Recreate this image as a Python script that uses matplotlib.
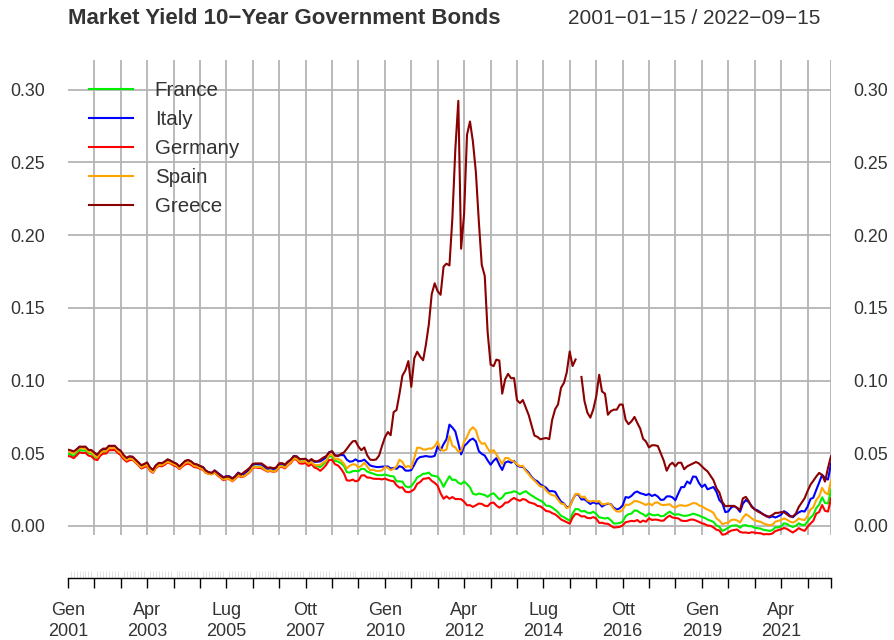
import numpy as np
import pandas as pd
import matplotlib
matplotlib.use("Agg")
import matplotlib.pyplot as plt

plt.rcParams['font.family'] = ['Liberation Sans', 'DejaVu Sans']

# ---------------- data (yields in percent) ----------------
start_date = "2001-01-15"
end_date = "2022-09-15"

france = [
    4.97, 4.90, 4.80, 5.00, 5.22, 5.19, 5.20, 5.01, 4.98, 4.77, 4.67, 4.94,
    5.07, 5.09, 5.32, 5.32, 5.33, 5.14, 5.00, 4.72, 4.51, 4.59, 4.64, 4.48,
    4.26, 4.06, 4.14, 4.22, 3.90, 3.72, 4.03, 4.20, 4.16, 4.28, 4.44, 4.38,
    4.25, 4.16, 3.95, 4.15, 4.33, 4.38, 4.30, 4.13, 4.10, 4.01, 3.94, 3.72,
    3.63, 3.59, 3.75, 3.56, 3.39, 3.21, 3.28, 3.28, 3.12, 3.28, 3.52, 3.41,
    3.44, 3.59, 3.75, 4.04, 4.09, 4.07, 4.06, 3.91, 3.78, 3.83, 3.78, 3.83,
    4.13, 4.13, 4.05, 4.26, 4.41, 4.67, 4.64, 4.43, 4.42, 4.44, 4.23, 4.37,
    4.16, 4.12, 4.05, 4.24, 4.42, 4.78, 4.80, 4.48, 4.43, 4.32, 4.14, 3.70,
    3.67, 3.77, 3.79, 3.76, 3.93, 3.92, 3.74, 3.66, 3.60, 3.52, 3.49, 3.49,
    3.54, 3.48, 3.43, 3.41, 3.07, 3.07, 3.05, 2.73, 2.66, 2.73, 3.01, 3.33,
    3.45, 3.59, 3.60, 3.67, 3.47, 3.44, 3.39, 3.10, 2.69, 3.07, 3.42, 3.16,
    3.18, 2.97, 2.88, 3.06, 2.88, 2.65, 2.22, 2.15, 2.23, 2.18, 2.13, 2.00,
    2.17, 2.25, 2.05, 1.83, 1.95, 2.23, 2.28, 2.31, 2.39, 2.31, 2.18, 2.31,
    2.39, 2.22, 2.10, 1.97, 1.85, 1.75, 1.62, 1.39, 1.38, 1.27, 1.12, 0.94,
    0.70, 0.60, 0.48, 0.36, 0.86, 1.17, 1.15, 0.99, 1.04, 0.91, 0.88, 0.98,
    0.83, 0.59, 0.56, 0.51, 0.56, 0.39, 0.17, 0.17, 0.20, 0.30, 0.67, 0.81,
    0.85, 1.07, 1.05, 0.90, 0.81, 0.66, 0.86, 0.76, 0.73, 0.78, 0.67, 0.69,
    0.84, 0.99, 0.85, 0.77, 0.81, 0.74, 0.69, 0.71, 0.76, 0.85, 0.78, 0.72,
    0.62, 0.55, 0.44, 0.36, 0.28, 0.04, -0.06, -0.34, -0.25, -0.12, 0.00, 0.04,
    0.04, -0.12, 0.04, 0.06, -0.02, -0.02, -0.12, -0.15, -0.18, -0.27, -0.30, -0.34,
    -0.29, -0.09, -0.11, -0.03, 0.18, 0.14, 0.01, -0.07, 0.01, 0.18, 0.08, 0.05,
    0.31, 0.58, 0.75, 1.23, 1.46, 1.97, 1.58, 1.55, 2.50,
]

italy = [
    5.20, 5.13, 5.06, 5.27, 5.45, 5.42, 5.41, 5.19, 5.16, 4.97, 4.82, 5.09,
    5.24, 5.23, 5.43, 5.43, 5.45, 5.25, 5.13, 4.83, 4.64, 4.77, 4.73, 4.53,
    4.34, 4.15, 4.23, 4.34, 3.99, 3.83, 4.14, 4.31, 4.29, 4.41, 4.56, 4.47,
    4.35, 4.26, 4.07, 4.27, 4.46, 4.52, 4.42, 4.25, 4.21, 4.11, 4.04, 3.79,
    3.68, 3.65, 3.82, 3.66, 3.50, 3.35, 3.42, 3.42, 3.27, 3.42, 3.67, 3.56,
    3.58, 3.74, 3.90, 4.21, 4.27, 4.24, 4.23, 4.07, 3.93, 3.98, 3.91, 3.99,
    4.27, 4.27, 4.17, 4.37, 4.53, 4.81, 4.78, 4.58, 4.59, 4.60, 4.43, 4.56,
    4.41, 4.42, 4.44, 4.57, 4.72, 5.08, 5.11, 4.84, 4.85, 4.87, 4.87, 4.56,
    4.42, 4.45, 4.58, 4.45, 4.47, 4.56, 4.36, 4.16, 4.10, 4.06, 4.05, 4.08,
    4.08, 4.09, 3.95, 3.99, 3.93, 4.11, 4.04, 3.81, 3.80, 3.84, 4.20, 4.59,
    4.74, 4.77, 4.81, 4.77, 4.76, 4.82, 5.47, 5.20, 5.63, 5.96, 6.97, 6.77,
    6.50, 5.67, 4.92, 5.49, 5.68, 5.91, 6.01, 5.82, 5.14, 4.96, 4.84, 4.51,
    4.21, 4.49, 4.66, 4.21, 3.85, 4.36, 4.44, 4.35, 4.47, 4.17, 4.07, 4.07,
    3.86, 3.65, 3.38, 3.17, 3.07, 2.86, 2.74, 2.62, 2.38, 2.40, 2.35, 1.99,
    1.67, 1.54, 1.29, 1.34, 1.80, 2.17, 2.15, 1.82, 1.84, 1.68, 1.51, 1.63,
    1.54, 1.57, 1.33, 1.47, 1.52, 1.50, 1.26, 1.13, 1.21, 1.41, 1.99, 1.94,
    2.07, 2.29, 2.37, 2.25, 2.20, 2.12, 2.20, 2.06, 2.15, 2.02, 1.79, 1.81,
    2.03, 2.04, 1.97, 1.77, 2.23, 2.67, 2.67, 3.06, 2.91, 3.40, 3.38, 2.96,
    2.68, 2.85, 2.52, 2.60, 2.68, 2.35, 1.78, 1.56, 0.95, 1.00, 1.27, 1.36,
    1.24, 0.97, 1.53, 1.79, 1.64, 1.36, 1.14, 1.07, 0.93, 0.77, 0.70, 0.58,
    0.66, 0.58, 0.66, 0.77, 1.02, 0.90, 0.71, 0.60, 0.79, 0.93, 1.03, 0.99,
    1.33, 1.86, 1.94, 2.48, 2.98, 3.52, 3.29, 3.19, 4.30,
]

germany = [
    4.81, 4.77, 4.66, 4.85, 5.06, 5.02, 5.03, 4.84, 4.79, 4.59, 4.53, 4.83,
    4.98, 4.98, 5.21, 5.21, 5.23, 5.03, 4.87, 4.60, 4.42, 4.52, 4.55, 4.37,
    4.17, 3.95, 4.03, 4.14, 3.80, 3.66, 3.98, 4.14, 4.10, 4.21, 4.37, 4.29,
    4.17, 4.09, 3.91, 4.09, 4.23, 4.28, 4.20, 4.05, 4.02, 3.93, 3.86, 3.65,
    3.58, 3.56, 3.69, 3.48, 3.33, 3.15, 3.22, 3.22, 3.07, 3.23, 3.45, 3.36,
    3.41, 3.56, 3.71, 3.98, 4.03, 3.98, 3.98, 3.85, 3.74, 3.78, 3.72, 3.77,
    4.05, 4.05, 3.96, 4.18, 4.33, 4.59, 4.55, 4.30, 4.28, 4.34, 4.12, 4.26,
    4.02, 3.94, 3.79, 3.97, 4.19, 4.53, 4.55, 4.24, 4.16, 3.94, 3.63, 3.14,
    3.11, 3.19, 3.07, 3.13, 3.47, 3.49, 3.33, 3.32, 3.25, 3.24, 3.24, 3.20,
    3.26, 3.17, 3.11, 3.08, 2.80, 2.63, 2.66, 2.36, 2.32, 2.38, 2.53, 2.90,
    3.02, 3.24, 3.26, 3.31, 3.10, 2.96, 2.77, 2.25, 1.87, 2.04, 1.87, 1.99,
    1.85, 1.85, 1.84, 1.67, 1.42, 1.43, 1.31, 1.42, 1.54, 1.52, 1.39, 1.36,
    1.57, 1.61, 1.41, 1.26, 1.37, 1.60, 1.62, 1.80, 1.93, 1.81, 1.73, 1.85,
    1.80, 1.63, 1.58, 1.52, 1.38, 1.35, 1.20, 1.02, 1.00, 0.88, 0.80, 0.64,
    0.45, 0.35, 0.26, 0.16, 0.58, 0.84, 0.79, 0.65, 0.67, 0.55, 0.53, 0.61,
    0.51, 0.21, 0.22, 0.16, 0.15, 0.02, -0.11, -0.09, -0.06, 0.04, 0.26, 0.30,
    0.35, 0.32, 0.41, 0.25, 0.37, 0.29, 0.53, 0.41, 0.44, 0.42, 0.36, 0.37,
    0.58, 0.71, 0.58, 0.55, 0.52, 0.37, 0.34, 0.35, 0.43, 0.44, 0.37, 0.28,
    0.19, 0.12, 0.03, 0.01, -0.10, -0.26, -0.31, -0.60, -0.57, -0.43, -0.32, -0.28,
    -0.24, -0.41, -0.46, -0.45, -0.49, -0.43, -0.46, -0.49, -0.50, -0.58, -0.56, -0.57,
    -0.52, -0.35, -0.29, -0.23, -0.14, -0.20, -0.33, -0.45, -0.32, -0.15, -0.26, -0.34,
    -0.06, 0.17, 0.35, 0.85, 0.96, 1.44, 1.04, 0.99, 1.90,
]

spain = [
    5.14, 5.07, 4.99, 5.20, 5.38, 5.34, 5.32, 5.11, 5.07, 4.86, 4.72, 5.01,
    5.15, 5.14, 5.36, 5.36, 5.37, 5.16, 5.02, 4.72, 4.52, 4.64, 4.60, 4.41,
    4.22, 4.02, 4.12, 4.21, 3.86, 3.70, 4.04, 4.20, 4.18, 4.30, 4.42, 4.34,
    4.25, 4.16, 3.96, 4.15, 4.34, 4.39, 4.30, 4.13, 4.09, 3.98, 3.89, 3.66,
    3.59, 3.55, 3.70, 3.53, 3.37, 3.20, 3.24, 3.24, 3.09, 3.26, 3.49, 3.40,
    3.42, 3.58, 3.73, 4.03, 4.06, 4.04, 4.05, 3.89, 3.77, 3.82, 3.74, 3.80,
    4.09, 4.11, 4.01, 4.22, 4.38, 4.64, 4.61, 4.41, 4.43, 4.45, 4.28, 4.39,
    4.18, 4.18, 4.19, 4.37, 4.49, 4.88, 4.91, 4.61, 4.62, 4.51, 4.29, 3.95,
    4.14, 4.24, 4.22, 4.03, 4.13, 4.35, 4.08, 3.83, 3.87, 3.78, 3.78, 3.82,
    4.05, 4.00, 3.83, 3.94, 4.09, 4.56, 4.40, 4.03, 4.13, 3.99, 4.67, 5.38,
    5.38, 5.26, 5.25, 5.33, 5.32, 5.48, 5.82, 5.26, 5.17, 5.26, 6.19, 5.52,
    5.40, 5.10, 5.17, 5.79, 6.13, 6.59, 6.79, 6.58, 5.91, 5.65, 5.69, 5.34,
    5.05, 5.22, 4.92, 4.59, 4.25, 4.67, 4.67, 4.51, 4.42, 4.24, 4.11, 4.14,
    3.78, 3.56, 3.31, 3.12, 2.91, 2.71, 2.70, 2.42, 2.24, 2.12, 2.08, 1.79,
    1.54, 1.51, 1.23, 1.32, 1.78, 2.20, 2.21, 1.97, 2.02, 1.75, 1.68, 1.73,
    1.67, 1.72, 1.48, 1.51, 1.56, 1.46, 1.17, 1.00, 0.98, 1.09, 1.47, 1.44,
    1.55, 1.72, 1.70, 1.63, 1.54, 1.44, 1.56, 1.42, 1.60, 1.62, 1.47, 1.43,
    1.46, 1.50, 1.33, 1.26, 1.40, 1.43, 1.38, 1.40, 1.48, 1.57, 1.56, 1.42,
    1.35, 1.22, 1.12, 1.03, 0.90, 0.52, 0.37, 0.13, 0.19, 0.23, 0.41, 0.44,
    0.38, 0.24, 0.57, 0.81, 0.69, 0.52, 0.39, 0.33, 0.29, 0.17, 0.10, 0.05,
    0.09, 0.29, 0.35, 0.41, 0.52, 0.43, 0.30, 0.23, 0.33, 0.51, 0.44, 0.40,
    0.69, 1.14, 1.28, 1.79, 2.03, 2.62, 2.29, 2.17, 3.15,
]

greece = [
    5.25, 5.20, 5.13, 5.27, 5.45, 5.45, 5.46, 5.24, 5.22, 5.05, 4.90, 5.17,
    5.32, 5.32, 5.52, 5.51, 5.52, 5.30, 5.18, 4.87, 4.69, 4.79, 4.77, 4.58,
    4.38, 4.18, 4.26, 4.37, 4.03, 3.86, 4.17, 4.34, 4.31, 4.43, 4.58, 4.49,
    4.37, 4.28, 4.09, 4.29, 4.48, 4.54, 4.44, 4.27, 4.23, 4.12, 4.05, 3.80,
    3.69, 3.65, 3.81, 3.64, 3.47, 3.33, 3.40, 3.39, 3.26, 3.40, 3.64, 3.53,
    3.70, 3.85, 4.01, 4.27, 4.30, 4.30, 4.30, 4.15, 4.00, 4.03, 3.97, 4.03,
    4.31, 4.32, 4.22, 4.44, 4.56, 4.80, 4.78, 4.60, 4.61, 4.62, 4.45, 4.60,
    4.45, 4.45, 4.55, 4.70, 4.80, 5.05, 5.15, 4.85, 4.80, 4.95, 5.05, 5.30,
    5.58, 5.82, 5.85, 5.46, 5.21, 5.40, 4.86, 4.56, 4.54, 4.57, 4.84, 5.49,
    6.10, 6.46, 6.24, 7.83, 7.97, 9.10, 10.34, 10.70, 11.34, 9.57, 11.52, 11.98,
    11.65, 11.40, 12.44, 13.86, 15.94, 16.69, 16.15, 15.90, 17.84, 18.04, 17.92, 21.14,
    25.91, 29.24, 19.07, 21.48, 26.90, 27.82, 26.45, 24.34, 20.91, 17.96, 17.20, 13.33,
    11.10, 10.99, 11.44, 11.38, 9.10, 10.09, 10.46, 10.16, 10.17, 8.66, 8.45, 8.66,
    8.14, 7.61, 6.93, 6.21, 6.13, 5.96, 6.01, 6.05, 5.97, 7.29, 8.03, 8.36,
    9.50, 9.85, 10.55, 12.00, 11.00, 11.45, np.nan, 10.25, 8.60, 7.80, 7.45, 8.00,
    8.90, 10.40, 9.25, 9.10, 7.65, 7.90, 8.00, 8.00, 8.35, 8.35, 7.30, 7.00,
    7.20, 7.50, 7.10, 6.70, 6.00, 5.80, 5.40, 5.55, 5.55, 5.50, 5.00, 4.50,
    3.80, 4.20, 4.35, 4.10, 4.35, 4.35, 3.90, 4.10, 4.20, 4.30, 4.40, 4.30,
    4.10, 3.90, 3.75, 3.45, 3.15, 2.60, 2.30, 1.65, 1.35, 1.38, 1.38, 1.38,
    1.25, 1.10, 1.90, 2.00, 1.70, 1.30, 1.15, 1.00, 0.90, 0.80, 0.65, 0.65,
    0.75, 0.90, 0.90, 0.95, 0.95, 0.80, 0.65, 0.65, 0.85, 1.30, 1.60, 1.90,
    2.40, 2.85, 3.10, 3.40, 3.65, 3.50, 3.05, 4.00, 4.80,
]

series_names = ["France", "Italy", "Germany", "Spain", "Greece"]
series_values = [france, italy, germany, spain, greece]
series_colors = ["#00EE00", "#0000FF", "#FF0000", "#FFA500", "#8B0000"]

month_abbr = {1: "Gen", 4: "Apr", 7: "Lug", 10: "Ott"}

# ---------------- figure ----------------
W, H = 894, 640
fig = plt.figure(figsize=(W / 100, H / 100), dpi=100)
L, R, T, B = 68, 831, 60, 578
ax = fig.add_axes([L / W, 1 - B / H, (R - L) / W, (B - T) / H])

dates = pd.date_range("2001-01-01", "2022-09-01", freq="MS") + pd.Timedelta(days=14)

ylo, yhi = -0.0358, 0.3205
ax.set_ylim(ylo, yhi)
ax.set_xlim(dates[0], dates[-1])

# grid
grid_col = "#B4B4B4"
yt = [0.0, 0.05, 0.10, 0.15, 0.20, 0.25, 0.30]
for v in yt:
    ax.axhline(v, color=grid_col, lw=1.3, zorder=1)
major = list(dates[::9]) + [dates[-1]]
ax.vlines(major[1:], -0.0065, yhi, color=grid_col, lw=1.3, zorder=1)

for name, vals, col in zip(series_names, series_values, series_colors):
    ax.plot(dates, np.array(vals, dtype=float) / 100.0, color=col, lw=1.5,
            label=name, zorder=3, solid_joinstyle="round")

# axes styling
for s in ["top", "left", "right"]:
    ax.spines[s].set_visible(False)
ax.spines["bottom"].set_color("black")
ax.spines["bottom"].set_linewidth(1.0)

ylabels = [f"{v:.2f}" for v in yt]
ax.set_yticks(yt)
ax.set_yticklabels(ylabels)
ax.tick_params(axis="y", which="both", left=False, right=False,
               labelleft=True, labelright=False, labelsize=12.8,
               labelcolor="#333333", length=0, pad=16.5)

ax2 = ax.twinx()
ax2.set_ylim(ylo, yhi)
ax2.set_yticks(yt)
ax2.set_yticklabels(ylabels)
ax2.tick_params(axis="y", which="both", left=False, right=False,
                labelleft=False, labelright=True, labelsize=12.8,
                labelcolor="#333333", length=0, pad=15.8)
for s in ax2.spines.values():
    s.set_visible(False)

labels = []
for i, d in enumerate(major):
    if i % 3 == 0 and i < len(major) - 1:
        labels.append(f"{month_abbr[d.month]}\n{d.year}")
    else:
        labels.append("")
ax.set_xticks(major)
ax.set_xticklabels(labels, fontsize=13, color="#333333", linespacing=1.25)
ax.tick_params(axis="x", which="major", direction="out", length=7.5,
               width=1.0, color="black", pad=10)
ax.set_xticks(list(dates), minor=True)
ax.tick_params(axis="x", which="minor", direction="in", length=5,
               width=0.6, color="#DDDDDD")

leg = ax.legend(loc="upper left", bbox_to_anchor=(89 / W, 1 - 81 / H),
                bbox_transform=fig.transFigure, frameon=False, fontsize=14.8,
                handlelength=2.15, handletextpad=1.05, labelspacing=0.49,
                borderpad=0, borderaxespad=0)
for t in leg.get_texts():
    t.set_color("#333333")

fig.text(L / W, 1 - 18 / H, "Market Yield 10\u2212Year Government Bonds",
         fontsize=16, fontweight="bold", color="#333333", va="center", ha="left")
fig.text(820 / W, 1 - 18 / H, "2001\u221201\u221215 / 2022\u221209\u221215",
         fontsize=15, color="#333333", va="center", ha="right")

fig.savefig("out.png", dpi=100)
